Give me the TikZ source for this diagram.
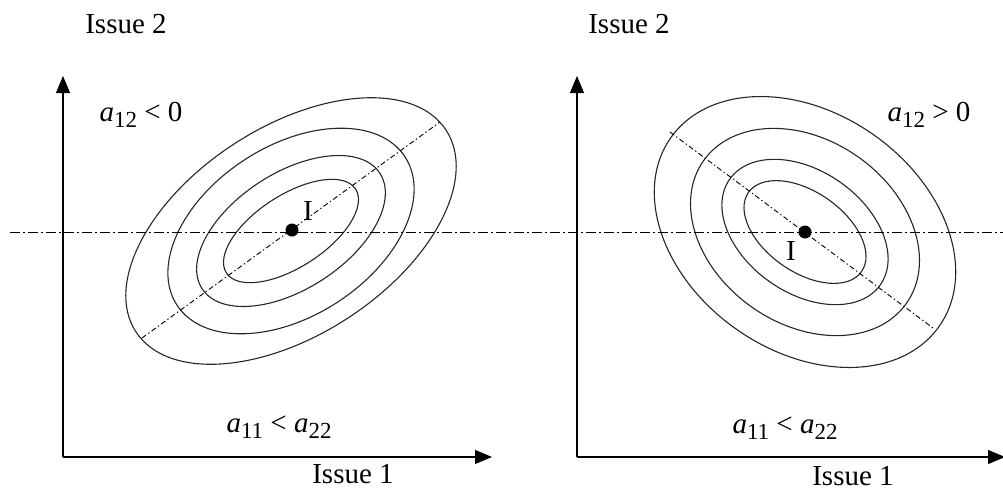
\documentclass[tikz,border=0pt]{standalone}
\usepackage{fontspec}
\setmainfont{Liberation Serif}
\usetikzlibrary{arrows.meta,positioning}
\newcommand{\coef}[1]{\textit{a}\raisebox{-0.45ex}{\fontsize{11.5}{12}\selectfont #1}}

\begin{document}
\begin{tikzpicture}[
  x=0.5pt, y=-0.5pt,
  >={Triangle[length=8.5pt,width=7pt]},
  line width=0.5pt,
  axis/.style={->, draw=black, line width=0.55pt},
  contour/.style={draw=black!85, line width=0.55pt},
  refline/.style={draw=black, line width=0.45pt, dash pattern=on 5pt off 1.6pt on 0.8pt off 1.6pt},
  mainaxis/.style={draw=black, line width=0.45pt, dash pattern=on 2.6pt off 1.3pt on 0.7pt off 1.3pt},
  idealpt/.style={circle, fill=black, inner sep=0pt, minimum size=6.5pt},
  lbl/.style={font=\fontsize{14.5}{17}\selectfont, inner sep=0pt}
]
  \useasboundingbox (0,0) rectangle (1003,489);

  % axes
  \coordinate (oL) at (63,457);
  \coordinate (yTipL) at (63,76);
  \coordinate (xTipL) at (492,457);
  \coordinate (oR) at (577,457);
  \coordinate (yTipR) at (577,76);
  \coordinate (xTipR) at (1005,457);
  \draw[axis] (oL) -- (yTipL);
  \draw[axis] (oL) -- (xTipL);
  \draw[axis] (oR) -- (yTipR);
  \draw[axis] (oR) -- (xTipR);

  % contours
  \coordinate (cL) at (291,231);
  \coordinate (cR) at (805,232);
  \begin{scope}[shift={(cL)}, rotate=33]
    \foreach \ra/\rb in {185/104, 136/85, 106/58, 77/36}
      \draw[contour] (0,0) ellipse [x radius=\ra, y radius=\rb];
  \end{scope}
  \begin{scope}[shift={(cR)}, rotate=-35]
    \foreach \ra/\rb in {164/119, 124/92, 92/61, 69/40}
      \draw[contour] (0,0) ellipse [x radius=\ra, y radius=\rb];
  \end{scope}

  % reference lines
  \coordinate (hl) at (10,232);
  \coordinate (hr) at (1003,232);
  \draw[refline] (hl) -- (hr);
  \coordinate (mL1) at (142,338);
  \coordinate (mL2) at (440,122);
  \coordinate (mR1) at (670,132);
  \coordinate (mR2) at (933,328);
  \draw[mainaxis] (mL1) -- (mL2);
  \draw[mainaxis] (mR1) -- (mR2);

  % ideal points
  \node[idealpt] (iL) at (292,230) {};
  \node[idealpt] (iR) at (805,232) {};
  \node[lbl] (iLlbl) at (308,211) {I};
  \node[lbl] (iRlbl) at (791,251) {I};

  % labels
  \node[lbl] (y2L) at (126,24) {Issue 2};
  \node[lbl] (x1L) at (353,474) {Issue 1};
  \node[lbl] (y2R) at (629,24) {Issue 2};
  \node[lbl] (x1R) at (853,476) {Issue 1};
  \node[lbl] (offL) at (141,115) {\coef{12} < 0};
  \node[lbl] (offR) at (929,115) {\coef{12} > 0};
  \node[lbl] (diagL) at (279,427) {\coef{11} < \coef{22}};
  \node[lbl] (diagR) at (785,428) {\coef{11} < \coef{22}};
\end{tikzpicture}
\end{document}
